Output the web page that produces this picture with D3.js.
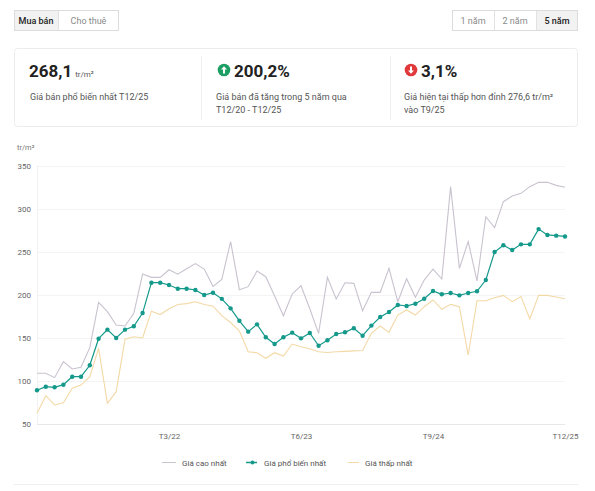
<!DOCTYPE html>
<html><head><meta charset="utf-8">
<script src="https://cdn.jsdelivr.net/npm/d3@7/dist/d3.min.js"></script>
<style>
html,body{margin:0;padding:0;background:#fff;}
svg{display:block;font-family:Roboto,"Noto Sans",sans-serif;}
</style></head>
<body>
<svg id="c" width="595" height="491"></svg>
<script>
// ---- data ----
const months = ["T12/20","T1/21","T2/21","T3/21","T4/21","T5/21","T6/21","T7/21","T8/21","T9/21","T10/21","T11/21","T12/21",
"T1/22","T2/22","T3/22","T4/22","T5/22","T6/22","T7/22","T8/22","T9/22","T10/22","T11/22","T12/22",
"T1/23","T2/23","T3/23","T4/23","T5/23","T6/23","T7/23","T8/23","T9/23","T10/23","T11/23","T12/23",
"T1/24","T2/24","T3/24","T4/24","T5/24","T6/24","T7/24","T8/24","T9/24","T10/24","T11/24","T12/24",
"T1/25","T2/25","T3/25","T4/25","T5/25","T6/25","T7/25","T8/25","T9/25","T10/25","T11/25","T12/25"];
const highPrice = [109,109,103.9,122.5,114,115.9,138.8,191.5,180.6,165.1,164,178.7,224.4,220.5,220.5,229.4,224.2,230.6,236.6,230.2,210.1,218.1,262,206.2,209.7,227.9,221.3,198.8,175.8,201.2,210.7,184,155.4,220.5,195.3,214.3,213.5,181.8,203.1,203.1,231,192.2,218.9,197.3,217.4,230,218.6,326,231,262,216.3,291,278.3,308.5,315.1,318.2,326,331,331,327.5,325.2];
const commonPrice = [89.3,93.4,92.7,95.7,105,105,118.3,149.2,159.7,150,159.7,163.6,179,214.3,214.3,211.6,207.3,207.3,205.8,200,202.7,195.5,184.5,170,157.4,165.9,150.8,143,150.8,156.2,149.6,155.8,141,147.3,154.7,156.6,161.3,152.7,164.4,174.4,180.2,188.4,187.2,189.9,195.7,204.7,200.8,202.3,199.6,202.3,204.3,217.4,250,257.8,252.3,258.9,258.9,276.6,269.8,269,268.1];
const lowPrice = [62.4,82.9,72.1,74.8,91.5,95.3,105,138,74,87.6,148.5,151.5,150,181.2,177.3,184,189,190,192.2,189,187,176,168,158,134.1,132.9,126.4,132.9,129.1,143,139.9,137.5,134.1,133.1,134.1,134.5,135,135.5,155.4,164,156.6,176.7,182.6,176.7,186.4,194.2,183.4,189.1,186.4,130.2,193.4,193.4,196.9,199.6,192.2,198.1,172.1,199.6,199.6,197.7,195.7];
const xTickLabels = ["T3/22","T6/23","T9/24","T12/25"];
const yTicks = [50,100,150,200,250,300,350];
const seriesNames = ["Giá cao nhất","Giá phổ biến nhất","Giá thấp nhất"];
const tabs = ["Mua bán","Cho thuê"];
const periods = ["1 năm","2 năm","5 năm"];

const C_HIGH = "#c9c2cf", C_COMMON = "#14998b", C_LOW = "#f3d9a6";

const svg = d3.select("#c");

// ---- top buttons ----
function btnGroup(x0, y0, labels, widths, activeIdx){
  const g = svg.append("g");
  let x = x0;
  const total = d3.sum(widths);
  labels.forEach((l,i)=>{
    g.append("rect").attr("x",x).attr("y",y0).attr("width",widths[i]).attr("height",21)
      .attr("fill", i===activeIdx ? "#f2f2f2" : "#fff");
    g.append("text").attr("x",x+widths[i]/2).attr("y",y0+14).attr("text-anchor","middle")
      .attr("font-size",9).attr("fill", i===activeIdx ? "#222" : "#8a8a8a")
      .attr("font-weight", i===activeIdx ? 500 : 400).text(l);
    if(i>0) g.append("line").attr("x1",x+0.5).attr("x2",x+0.5).attr("y1",y0).attr("y2",y0+21).attr("stroke","#e2e2e2");
    x += widths[i];
  });
  g.append("rect").attr("x",x0+0.5).attr("y",y0+0.5).attr("width",total-1).attr("height",20)
    .attr("fill","none").attr("stroke","#dcdcdc");
}
btnGroup(14,10,tabs,[44,61],0);
btnGroup(452,10,periods,[42,42,42],2);

// ---- stats card ----
svg.append("rect").attr("x",14.5).attr("y",48.5).attr("width",563).attr("height",78).attr("rx",3)
  .attr("fill","#fff").attr("stroke","#ececec");
[201,390].forEach(x=>svg.append("line").attr("x1",x+0.5).attr("x2",x+0.5).attr("y1",56).attr("y2",120).attr("stroke","#f0f0f0"));

const big = svg.append("g");
const t1 = big.append("text").attr("x",29).attr("y",77).attr("font-size",17).attr("font-weight",700).attr("fill","#222");
t1.append("tspan").text("268,1");
t1.append("tspan").attr("font-size",8).attr("font-weight",400).attr("fill","#555").attr("dx",3).text("tr/m²");
big.append("text").attr("x",30).attr("y",100).attr("font-size",9).attr("fill","#555").text("Giá bán phổ biến nhất T12/25");

// green up icon
svg.append("circle").attr("cx",224).attr("cy",70).attr("r",6.3).attr("fill","#1d9e63");
svg.append("path").attr("d","M224,66.3 L227,69.6 L225,69.6 L225,73.5 L223,73.5 L223,69.6 L221,69.6 Z").attr("fill","#fff");
svg.append("text").attr("x",234).attr("y",77).attr("font-size",17).attr("font-weight",700).attr("fill","#222").text("200,2%");
svg.append("text").attr("x",216).attr("y",100).attr("font-size",9).attr("fill","#555").text("Giá bán đã tăng trong 5 năm qua");
svg.append("text").attr("x",216).attr("y",113).attr("font-size",9).attr("fill","#555").text("T12/20 - T12/25");

// red down icon
svg.append("circle").attr("cx",411).attr("cy",70).attr("r",6.3).attr("fill","#e0383b");
svg.append("path").attr("d","M411,73.7 L414,70.4 L412,70.4 L412,66.5 L410,66.5 L410,70.4 L408,70.4 Z").attr("fill","#fff");
svg.append("text").attr("x",421).attr("y",77).attr("font-size",17).attr("font-weight",700).attr("fill","#222").text("3,1%");
svg.append("text").attr("x",404).attr("y",100).attr("font-size",9).attr("fill","#555").text("Giá hiện tại thấp hơn đỉnh 276,6 tr/m²");
svg.append("text").attr("x",404).attr("y",113).attr("font-size",9).attr("fill","#555").text("vào T9/25");

// chart card frame
svg.append("line").attr("x1",14).attr("x2",578).attr("y1",484.5).attr("y2",484.5).attr("stroke","#efefef");

// ---- chart ----
const x = d3.scalePoint().domain(months).range([37,565]);
const y = d3.scaleLinear().domain([50,350]).range([424,166]);

const grid = svg.append("g");
yTicks.forEach(t=>{
  grid.append("line").attr("x1",37).attr("x2",565).attr("y1",y(t)+0.5).attr("y2",y(t)+0.5)
    .attr("stroke", t===50 ? "#e8e8e8" : "#f4f4f4");
});
grid.append("line").attr("x1",37.5).attr("x2",37.5).attr("y1",y(350)).attr("y2",y(50)).attr("stroke","#f2f2f2");

const yAxis = svg.append("g").attr("transform","translate(33,0)")
  .call(d3.axisLeft(y).tickValues(yTicks).tickSize(0).tickPadding(2));
yAxis.select(".domain").remove();
yAxis.selectAll("text").attr("font-size",8).attr("fill","#666").attr("font-family","Roboto,sans-serif");

svg.append("text").attr("x",17).attr("y",150).attr("font-size",7.5).attr("fill","#777").text("tr/m²");

const xAxis = svg.append("g").attr("transform","translate(0,430)")
  .call(d3.axisBottom(x).tickValues(xTickLabels).tickSize(0).tickPadding(3));
xAxis.select(".domain").remove();
xAxis.selectAll("text").attr("font-size",8).attr("fill","#666").attr("font-family","Roboto,sans-serif");

const line = d3.line().x((d,i)=>x(months[i])).y(d=>y(d));
svg.append("path").datum(lowPrice).attr("d",line).attr("fill","none").attr("stroke",C_LOW).attr("stroke-width",1.1);
svg.append("path").datum(highPrice).attr("d",line).attr("fill","none").attr("stroke",C_HIGH).attr("stroke-width",1.1);
svg.append("path").datum(commonPrice).attr("d",line).attr("fill","none").attr("stroke",C_COMMON).attr("stroke-width",1.2);
svg.append("g").selectAll("circle").data(commonPrice).join("circle")
  .attr("cx",(d,i)=>x(months[i])).attr("cy",d=>y(d)).attr("r",2.2).attr("fill",C_COMMON);

// ---- legend ----
const lg = svg.append("g");
const legendItems = [
  {name:seriesNames[0], color:C_HIGH, x1:162, x2:176, tx:182, dot:false},
  {name:seriesNames[1], color:C_COMMON, x1:246, x2:257, tx:264, dot:true},
  {name:seriesNames[2], color:C_LOW, x1:348, x2:359, tx:365, dot:false}
];
legendItems.forEach(it=>{
  lg.append("line").attr("x1",it.x1).attr("x2",it.x2).attr("y1",462.5).attr("y2",462.5).attr("stroke",it.color).attr("stroke-width",it.dot?1.5:1);
  if(it.dot) lg.append("circle").attr("cx",(it.x1+it.x2)/2+1).attr("cy",462.5).attr("r",2).attr("fill",it.color);
  lg.append("text").attr("x",it.tx).attr("y",465.5).attr("font-size",8).attr("fill","#555").text(it.name);
});
</script>
</body></html>
